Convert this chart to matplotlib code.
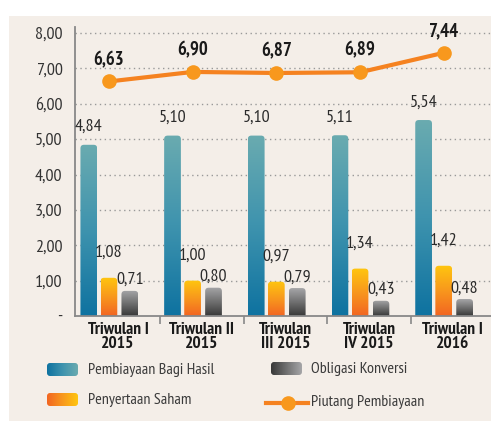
import matplotlib
matplotlib.use("Agg")
import matplotlib.pyplot as plt
import numpy as np
from matplotlib.colors import LinearSegmentedColormap
from matplotlib.patches import FancyBboxPatch, Rectangle
from matplotlib.lines import Line2D

plt.rcParams['font.family'] = ['PT Sans Narrow', 'DejaVu Sans']

categories = ["Triwulan I\n2015", "Triwulan II\n2015", "Triwulan\nIII 2015", "Triwulan\nIV 2015", "Triwulan I\n2016"]
bagi_hasil = [4.84, 5.10, 5.10, 5.11, 5.54]
penyertaan = [1.08, 1.00, 0.97, 1.34, 1.42]
obligasi = [0.71, 0.80, 0.79, 0.43, 0.48]
piutang = [6.63, 6.90, 6.87, 6.89, 7.44]
yticks = [0, 1, 2, 3, 4, 5, 6, 7, 8]
ytick_labels = ["-", "1,00", "2,00", "3,00", "4,00", "5,00", "6,00", "7,00", "8,00"]
legend_labels = ["Pembiayaan Bagi Hasil", "Penyertaan Saham", "Obligasi Konversi", "Piutang Pembiayaan"]

def fmt(v):
    return f"{v:.2f}".replace(".", ",")

W, H = 491, 421
fig = plt.figure(figsize=(W / 100, H / 100), dpi=100)
fig.patch.set_facecolor("white")

# background overlay axes in pixel coordinates
bg = fig.add_axes([0, 0, 1, 1], zorder=0)
bg.set_xlim(0, W)
bg.set_ylim(H, 0)
bg.axis("off")
bg.add_patch(Rectangle((9, 16), W - 9, H - 16, facecolor="#F4EEE8", edgecolor="none"))

ax_left, ax_right, ax_top, ax_bot = 75, 491, 27, 316
ax = fig.add_axes([ax_left / W, 1 - ax_bot / H, (ax_right - ax_left) / W, (ax_bot - ax_top) / H], zorder=1)
ax.set_facecolor("none")

xlim = (-0.515, 4.455)
ylim = (0, 8.17)

blue_cm = LinearSegmentedColormap.from_list("b", ["#0E72A0", "#3E93AE", "#6AABB0"])
orange_cm = LinearSegmentedColormap.from_list("o", ["#F26522", "#F8981D", "#FFC60F"])
grey_cm = LinearSegmentedColormap.from_list("g", ["#383838", "#707070", "#A6A6A8"])

x = np.arange(len(categories))
offsets = [-0.35, -0.11, 0.14]
label_pads = [7, 12, 2]
width = 0.2
px_x = (ax_right - ax_left) / (xlim[1] - xlim[0])
px_y = (ax_bot - ax_top) / (ylim[1] - ylim[0])
r_x = 3.5 / px_x
aspect = (3.5 / px_y) / r_x

grad = np.linspace(0, 1, 256).reshape(-1, 1)
for vals, off, cm, lp in [(bagi_hasil, offsets[0], blue_cm, label_pads[0]),
                          (penyertaan, offsets[1], orange_cm, label_pads[1]),
                          (obligasi, offsets[2], grey_cm, label_pads[2])]:
    bars = ax.bar(x + off, vals, width, color="none", edgecolor="none")
    for b, v in zip(bars, vals):
        bx, bw, bh = b.get_x(), b.get_width(), b.get_height()
        clip = FancyBboxPatch((bx, -0.3), bw, bh + 0.3, boxstyle=f"round,pad=0,rounding_size={r_x}",
                              mutation_aspect=aspect, transform=ax.transData, facecolor="none", edgecolor="none")
        ax.add_patch(clip)
        im = ax.imshow(grad, extent=[bx, bx + bw, 0, bh], origin="lower", aspect="auto", cmap=cm, zorder=2)
        im.set_clip_path(clip)
        ax.annotate(fmt(v), (bx + bw / 2, bh), xytext=(0, lp), textcoords="offset points",
                    ha="center", va="bottom", fontsize=13, color="#2b2b2b", zorder=5)

ax.plot(x + offsets[1], piutang, color="#F58220", lw=3, marker="o", markersize=9.5,
        markerfacecolor="#F8981D", markeredgecolor="#F8981D", zorder=4)
for xi, v in zip(x + offsets[1], piutang):
    ax.annotate(fmt(v), (xi, v), xytext=(0, 9), textcoords="offset points", ha="center", va="bottom",
                fontsize=13.5, fontweight="bold", color="#1a1a1a", zorder=5)

ax.set_xlim(*xlim)
ax.set_ylim(*ylim)
ax.set_yticks(yticks)
ax.set_yticklabels(ytick_labels, fontsize=13, color="#333333")
ax.tick_params(axis="y", length=0, pad=9)
ax.set_xticks(x)
ax.set_xticklabels(categories, fontsize=12.5, fontweight="bold", color="#1a1a1a", linespacing=0.9)
ax.tick_params(axis="x", length=0, pad=4)
ax.set_xticks(x[:-1] + 0.5, minor=True)
ax.tick_params(axis="x", which="minor", length=6, width=1.2, color="#888888", direction="out")
for yv in yticks[1:]:
    ax.axhline(yv, color="#999999", lw=1, ls=(0, (1, 2.5)), zorder=1)
for s in ["top", "right"]:
    ax.spines[s].set_visible(False)
for s in ["left", "bottom"]:
    ax.spines[s].set_color("#888888")
    ax.spines[s].set_linewidth(1.3)

# legend (pixel coordinates on background axes)
hgrad = np.linspace(0, 1, 256).reshape(1, -1)
def legend_patch(x0, y0, w, h, cm):
    clip = FancyBboxPatch((x0, y0), w, h, boxstyle="round,pad=0,rounding_size=3",
                          facecolor="none", edgecolor="none", transform=bg.transData)
    bg.add_patch(clip)
    im = bg.imshow(hgrad, extent=[x0, x0 + w, y0 + h, y0], aspect="auto", cmap=cm, zorder=2)
    im.set_clip_path(clip)

legend_patch(47, 363, 31, 13, blue_cm)
legend_patch(47, 393, 31, 13, orange_cm)
legend_patch(271, 362, 31, 13, grey_cm)
bg.add_line(Line2D([266, 308], [403, 403], color="#F58220", lw=3, zorder=3))
bg.add_line(Line2D([288], [403], marker="o", markersize=9.5, color="#F8981D", zorder=4))
bg.set_xlim(0, W)
bg.set_ylim(H, 0)

lt = dict(fontsize=11.5, color="#3a3a3a", va="center", ha="left")
bg.text(88, 370, legend_labels[0], **lt)
bg.text(88, 400, legend_labels[1], **lt)
bg.text(311, 369, legend_labels[2], **lt)
bg.text(311, 402, legend_labels[3], **lt)

fig.savefig("out.png", dpi=100)
